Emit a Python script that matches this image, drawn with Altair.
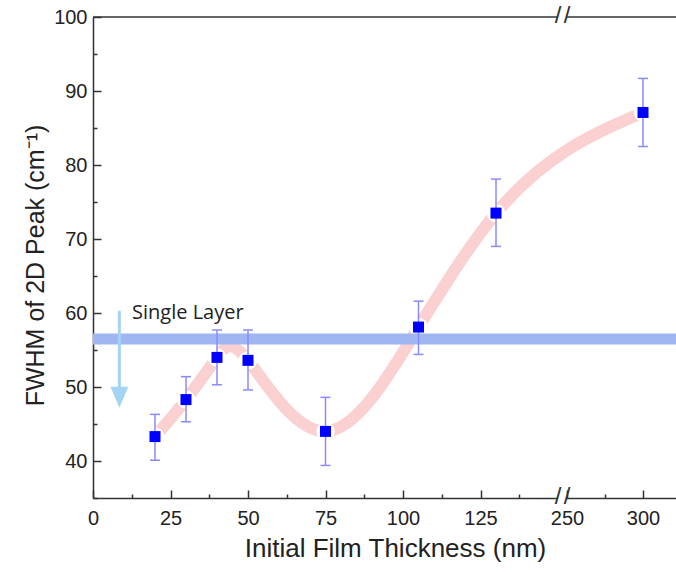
import json
import altair as alt
import pandas as pd

# ---------------- data ----------------
thickness = [20, 30, 40, 50, 75, 105, 130, 300]          # nm
fwhm      = [43.3, 48.3, 54.0, 53.6, 44.0, 58.1, 73.5, 87.1]
err_low   = [40.1, 45.3, 50.3, 49.6, 39.4, 54.4, 69.0, 82.5]
err_high  = [46.3, 51.4, 57.7, 57.7, 48.6, 61.6, 78.1, 91.7]

single_layer_level = [56.5]
arrow_x = [8.5]
arrow_top = [60.3]
arrow_head = [48.6]
label_x = [12.6]
label_y = [60.0]
label_text = ["Single Layer"]

major_ticks = [0, 25, 50, 75, 100, 125, 250, 300]
major_labels = ["0", "25", "50", "75", "100", "125", "250", "300"]
minor_ticks = [12.5, 37.5, 62.5, 87.5, 112.5, 137.5, 275]
break_ends = [150, 250]
y_major = [40, 50, 60, 70, 80, 90, 100]
y_minor = [35, 45, 55, 65, 75, 85, 95]

# ---------------- broken-axis mapping ----------------
W, H = 583, 481
LEFT_K = 3.1
RIGHT_REF, RIGHT_U, RIGHT_K = 300, 550, 1.52
SPLIT = 160


def to_u(v):
    return LEFT_K * v if v <= SPLIT else RIGHT_U + RIGHT_K * (v - RIGHT_REF)


def u_expr(field):
    return (f"datum.{field} <= {SPLIT} ? {LEFT_K} * datum.{field} : "
            f"{RIGHT_U} + {RIGHT_K} * (datum.{field} - {RIGHT_REF})")


major_u = [round(to_u(t), 3) for t in major_ticks]
minor_u = [round(to_u(t), 3) for t in minor_ticks]
mu = json.dumps(major_u)
ml = json.dumps(major_labels)

FONT = "Liberation Sans"
AX = "#333333"

xscale = alt.Scale(domain=[0, W], nice=False, zero=False)
yscale = alt.Scale(domain=[35, 100], nice=False, zero=False)

xaxis = alt.Axis(
    orient="bottom",
    values=major_u,
    labelExpr=f"indexof({mu}, datum.value) >= 0 ? {ml}[indexof({mu}, datum.value)] : ''",
    tickSize=alt.ExprRef("-8"),
    labelPadding=18, labelFlush=False, labelOverlap=False,
    labelFont=FONT, labelFontSize=20, labelColor="#222222",
    domainColor=AX, domainWidth=1.5, tickColor=AX, tickWidth=1.5,
    grid=False,
    title="Initial Film Thickness (nm)", titleFont=FONT, titleFontSize=26,
    titleFontWeight="normal", titleColor="#222222",
    titleX=302, titleY=50, titleAlign="center", titleBaseline="middle",
)
yaxis = alt.Axis(
    orient="left",
    values=y_major,
    tickSize=alt.ExprRef("-8"),
    labelPadding=14, labelFlush=False, labelOverlap=False,
    labelFont=FONT, labelFontSize=20, labelColor="#222222",
    domainColor=AX, domainWidth=1.5, tickColor=AX, tickWidth=1.5,
    grid=False,
    title="FWHM of 2D Peak (cm⁻¹)", titleFont=FONT, titleFontSize=25,
    titleFontWeight="normal", titleColor="#222222",
    titleX=-58, titleY=248, titleAngle=-90, titleAlign="center", titleBaseline="middle",
)
xaxis_minor = alt.Axis(
    orient="bottom", values=minor_u, tickSize=alt.ExprRef("-4"),
    labels=False, domain=False, grid=False, title=None,
    tickColor=AX, tickWidth=1.5,
)
yaxis_minor = alt.Axis(
    orient="left", values=y_minor, tickSize=alt.ExprRef("-4"),
    labels=False, domain=False, grid=False, title=None,
    tickColor=AX, tickWidth=1.5,
)

df = pd.DataFrame({"x": thickness, "y": fwhm, "lo": err_low, "hi": err_high})
base = alt.Chart(df).transform_calculate(u=u_expr("x"))

X = lambda f: alt.X(f, scale=xscale, axis=None)
Y = lambda f: alt.Y(f, scale=yscale, axis=None)

minor_layer = base.mark_point(opacity=0).encode(
    x=alt.X("u:Q", scale=xscale, axis=xaxis_minor),
    y=alt.Y("y:Q", scale=yscale, axis=yaxis_minor),
)

# guide curve: natural spline up to 105 nm, monotone spline from 105 nm on
left_part = df.iloc[0:6]
right_part = df.iloc[5:8]
curve_a = alt.Chart(left_part).transform_calculate(u=u_expr("x")).mark_line(
    color="#fad0d0", strokeWidth=12, strokeCap="round", interpolate="natural").encode(
    x=alt.X("u:Q", scale=xscale, axis=xaxis),
    y=alt.Y("y:Q", scale=yscale, axis=yaxis),
)
curve_b = alt.Chart(right_part).transform_calculate(u=u_expr("x")).mark_line(
    color="#fad0d0", strokeWidth=12, strokeCap="round", interpolate="monotone").encode(
    x=X("u:Q"), y=Y("y:Q"))

# white discs leave the gap in the guide curve around every symbol
gaps = base.mark_circle(size=340, color="#ffffff", opacity=1).encode(
    x=X("u:Q"), y=Y("y:Q"))

band = alt.Chart(pd.DataFrame({"y": single_layer_level})).mark_rule(
    color="#a0b6f2", strokeWidth=11).encode(y=Y("y:Q"))

ebar = base.mark_rule(color="#8a8aff", strokeWidth=1.5).encode(
    x=X("u:Q"), y=Y("lo:Q"), y2="hi:Q")
cap_lo = base.mark_tick(color="#8a8aff", orient="horizontal", size=10,
                        thickness=1.5, opacity=1).encode(x=X("u:Q"), y=Y("lo:Q"))
cap_hi = base.mark_tick(color="#8a8aff", orient="horizontal", size=10,
                        thickness=1.5, opacity=1).encode(x=X("u:Q"), y=Y("hi:Q"))
squares = base.mark_point(shape="square", size=121, filled=True,
                          color="#0000ff", opacity=1).encode(x=X("u:Q"), y=Y("y:Q"))

adf = pd.DataFrame({"x": arrow_x, "top": arrow_top, "head": arrow_head})
abase = alt.Chart(adf).transform_calculate(u=u_expr("x"))
shaft = abase.mark_rule(color="#a3d3f5", strokeWidth=3).encode(
    x=X("u:Q"), y=Y("top:Q"), y2="head:Q")
head = abase.mark_point(shape="M-0.85,-1L0.85,-1L0,1Z", size=441, filled=True,
                        color="#a3d3f5", opacity=1).encode(x=X("u:Q"), y=Y("head:Q"))

tdf = pd.DataFrame({"x": label_x, "y": label_y, "t": label_text})
label = alt.Chart(tdf).transform_calculate(u=u_expr("x")).mark_text(
    font="Open Sans", fontSize=20, align="left", baseline="middle",
    color="#222222").encode(x=X("u:Q"), y=Y("y:Q"), text="t:N")

top_line = alt.Chart(pd.DataFrame({"y": [100]})).mark_rule(
    color=AX, strokeWidth=1.5).encode(y=Y("y:Q"))

bdf = pd.DataFrame({"lo": [break_ends[0]] * 2, "hi": [break_ends[1]] * 2,
                    "y": [100, 35]})
gap_rule = alt.Chart(bdf).transform_calculate(
    ul=u_expr("lo"), uh=u_expr("hi")).mark_rule(color="white", strokeWidth=4).encode(
    x=X("ul:Q"), x2="uh:Q", y=Y("y:Q"))
sdf = pd.DataFrame({"x": break_ends * 2, "y": [100, 100, 35, 35]})
slashes = alt.Chart(sdf).transform_calculate(u=u_expr("x")).mark_text(
    text="/", font=FONT, fontSize=24, align="center", baseline="middle",
    color=AX, dy=-1).encode(x=X("u:Q"), y=Y("y:Q"))

chart = alt.layer(
    minor_layer, curve_a, curve_b, gaps, band, ebar, cap_lo, cap_hi, squares,
    shaft, head, label, top_line, gap_rule, slashes
).resolve_axis(x="independent", y="independent").properties(
    width=W, height=H,
    autosize=alt.AutoSizeParams(type="none"),
    padding={"left": 93, "top": 17, "right": 0, "bottom": 75},
).configure_view(strokeWidth=0)

chart.save("out.html", embed_options={"renderer": "svg", "actions": False})
